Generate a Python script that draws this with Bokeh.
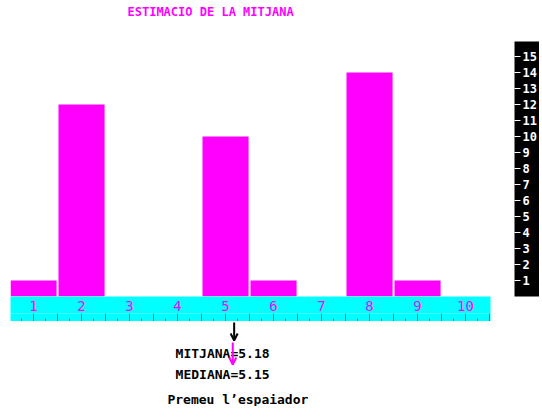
from bokeh.plotting import figure
from bokeh.models import (Range1d, LinearAxis, FixedTicker, SingleIntervalTicker, Arrow,
                          OpenHead, CustomJSTickFormatter)
from bokeh.layouts import column
from bokeh.embed import file_html
from bokeh.resources import INLINE
from bokeh.core.properties import value

# ---- data ----
categories = [1, 2, 3, 4, 5, 6, 7, 8, 9, 10]
counts = [1, 12, 0, 0, 10, 1, 0, 14, 1, 0]
y_ticks = list(range(1, 16))
title_text = "ESTIMACIO DE LA MITJANA"
mean_label = "MITJANA"
median_label = "MEDIANA"
prompt_text = "Premeu l\u2019espaiador"

N = sum(counts)
mean = sum(c * n for c, n in zip(categories, counts)) / N
cum = 0
median = None
for c, n in zip(categories, counts):
    if cum + n >= N / 2:
        median = (c - 0.5) + (N / 2 - cum) / n
        break
    cum += n

MAG = "#FF00FF"
CYAN = "#00FFFF"
FONT = "DejaVu Sans Mono"

# ---- main chart ----
p = figure(frame_width=480, frame_height=255,
           x_range=Range1d(0.52, 10.52), y_range=Range1d(0, 15.94),
           output_backend="svg", toolbar_location=None,
           x_axis_location=None, y_axis_location=None,
           min_border_left=10, min_border_right=0, min_border_top=0, min_border_bottom=0)
p.outline_line_color = None
p.grid.visible = False
p.background_fill_color = "white"

p.title.text = title_text
p.title.text_color = MAG
p.title.text_font = FONT
p.title.text_font_size = "12px"
p.title.text_font_style = "bold"
p.title.align = "left"
p.title.offset = 117
p.title.standoff = 5

p.vbar(x=categories, top=counts, width=0.96, fill_color=MAG, line_color=None)

empty_fmt = CustomJSTickFormatter(code="return ''")

top_spacer = LinearAxis(ticker=FixedTicker(ticks=[1]), axis_line_color=None,
                        major_tick_out=20, major_tick_in=0, minor_tick_out=0, minor_tick_in=0,
                        major_tick_line_color=None, major_label_text_font_size="1px",
                        major_label_standoff=0, formatter=empty_fmt)
p.add_layout(top_spacer, "above")

xa = LinearAxis(ticker=FixedTicker(ticks=categories), axis_line_color=None,
                major_tick_in=0, major_tick_out=0, minor_tick_in=0, minor_tick_out=0,
                major_label_text_color=MAG, major_label_text_font=FONT,
                major_label_text_font_size="14px", major_label_standoff=4,
                background_fill_color=CYAN)
p.add_layout(xa, "below")

xb = LinearAxis(ticker=SingleIntervalTicker(interval=0.5, num_minor_ticks=2),
                axis_line_color=None, major_tick_in=0, major_tick_out=8,
                minor_tick_in=-5, minor_tick_out=8,
                major_tick_line_color=MAG, minor_tick_line_color=MAG,
                major_label_text_font_size="1px", major_label_standoff=0,
                formatter=empty_fmt, background_fill_color=CYAN)
p.add_layout(xb, "below")

spacer = LinearAxis(ticker=FixedTicker(ticks=[0]), axis_line_color=None,
                    major_tick_out=24, major_tick_in=0, minor_tick_out=0, minor_tick_in=0,
                    major_tick_line_color=None, major_label_text_font_size="1px",
                    major_label_standoff=0, formatter=empty_fmt)
p.add_layout(spacer, "right")

ya = LinearAxis(ticker=FixedTicker(ticks=y_ticks), axis_line_color=None,
                major_tick_out=6, major_tick_in=0, minor_tick_out=0, minor_tick_in=0,
                major_tick_line_color="white", major_label_text_color="white",
                major_label_text_font=FONT, major_label_text_font_size="12px",
                major_label_text_font_style="bold", major_label_standoff=2,
                background_fill_color="black")
p.add_layout(ya, "right")

# ---- lower panel with arrows and texts ----
p2 = figure(frame_width=480, frame_height=85, x_range=p.x_range, y_range=Range1d(85, 0),
            output_backend="svg", toolbar_location=None,
            x_axis_location=None, y_axis_location=None,
            min_border_left=10, min_border_right=0, min_border_top=0, min_border_bottom=0)
p2.outline_line_color = None
p2.grid.visible = False

p2.text(x=[3.96, 3.96, 3.79], y=[24, 45, 70],
        text=[f"{mean_label}={mean:.2f}", f"{median_label}={median:.2f}", prompt_text],
        text_align="left", text_baseline="top", text_font=value(FONT),
        text_font_size="13px", text_font_style="bold", text_color="black")

p2.add_layout(Arrow(x_start=mean, y_start=1, x_end=mean, y_end=19,
                    end=OpenHead(size=7, line_color="black", line_width=2),
                    line_color="black", line_width=2))
p2.add_layout(Arrow(x_start=median, y_start=21, x_end=median, y_end=43,
                    end=OpenHead(size=7, line_color=MAG, line_width=2),
                    line_color=MAG, line_width=2))

layout = column(p, p2)
open("out.html", "w").write(file_html(layout, INLINE))
